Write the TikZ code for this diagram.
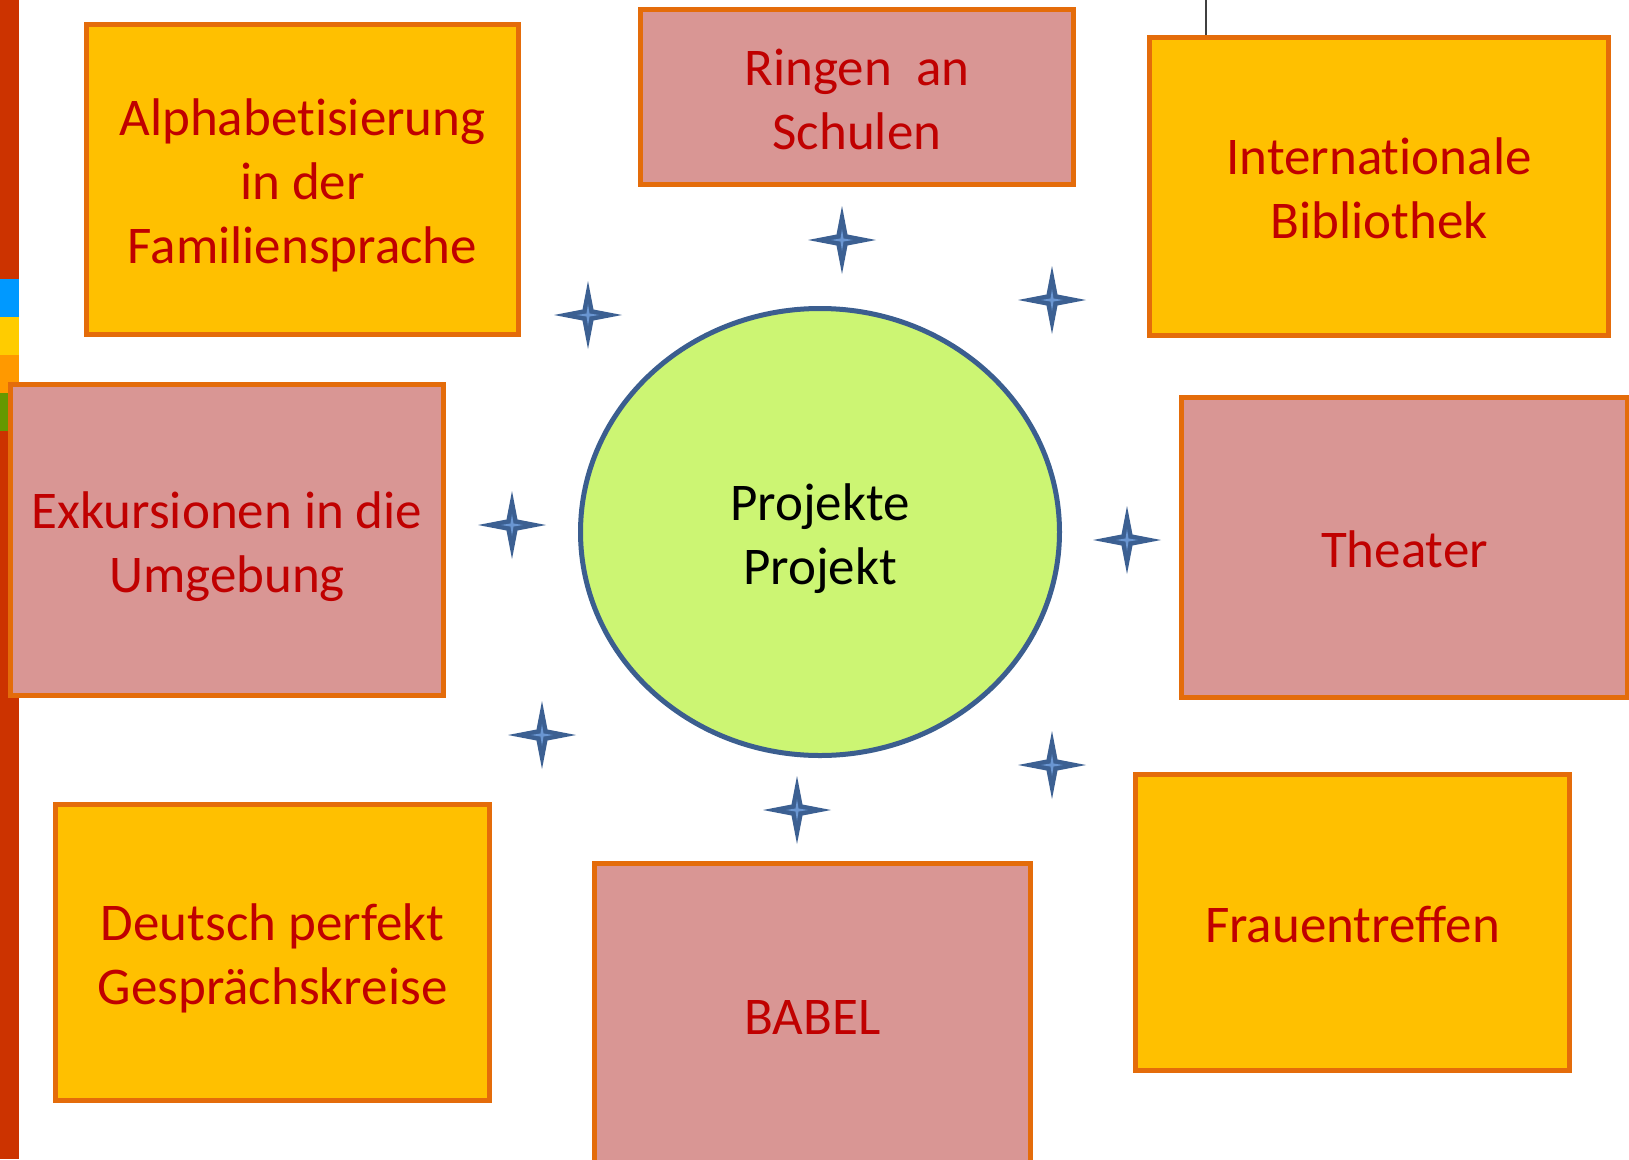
\documentclass[tikz,border=0pt]{standalone}
\usepackage{fontspec}
\setmainfont{Carlito}[Ligatures={NoCommon}]
\usetikzlibrary{shapes.geometric}
\definecolor{boxyellow}{HTML}{FFC000}
\definecolor{boxpink}{HTML}{D99694}
\definecolor{boxline}{HTML}{E46C0A}
\definecolor{txtred}{HTML}{C00000}
\definecolor{ellfill}{HTML}{CCF573}
\definecolor{elldraw}{HTML}{3B5E8F}
\definecolor{starblue}{HTML}{3C6092}
\definecolor{starlight}{HTML}{6A96D2}
\definecolor{barred}{HTML}{CC3300}
\definecolor{barblue}{HTML}{0099FF}
\definecolor{baryellow}{HTML}{FFCC00}
\definecolor{barorange}{HTML}{FF9900}
\definecolor{bargreen}{HTML}{669900}
\newcommand{\boxlines}[1]{\raisebox{-7.5pt}[\height][\depth]{\begin{tabular}{@{}c@{}}#1\end{tabular}}}
\tikzset{
  projbox/.style={draw=boxline, line width=5pt, text=txtred,
    font=\fontsize{53}{64}\selectfont, inner sep=0pt},
  yellowbox/.style={projbox, fill=boxyellow},
  pinkbox/.style={projbox, fill=boxpink},
  sparkle/.pic={
    \fill[starblue] (0,-34) -- (5.5,-5.5) -- (34,0) -- (5.5,5.5) -- (0,34)
      -- (-5.5,5.5) -- (-34,0) -- (-5.5,-5.5) -- cycle;
    \fill[starlight] (0,-11) -- (1.5,-1.5) -- (11,0) -- (1.5,1.5) -- (0,11)
      -- (-1.5,1.5) -- (-11,0) -- (-1.5,-1.5) -- cycle;
  }
}
\begin{document}
\begin{tikzpicture}[x=1pt,y=-1pt]
\useasboundingbox (0,0) rectangle (1629,1159);
\fill[white] (0,0) rectangle (1629,1159);
\begin{scope}
\clip (0,0) rectangle (1629,1159);
% left colour bar
\fill[barred] (0,0) rectangle (19,279);
\fill[barblue] (0,279) rectangle (19,317);
\fill[baryellow] (0,317) rectangle (19,355);
\fill[barorange] (0,355) rectangle (19,393);
\fill[bargreen] (0,393) rectangle (19,431);
\fill[barred] (0,431) rectangle (19,1159);

% boxes
\node[yellowbox, minimum width=432pt, minimum height=310pt] (alpha) at (302.5,179.5)
  {\boxlines{Alphabetisierung\\in der\\Familiensprache}};
\node[pinkbox, minimum width=433pt, minimum height=175pt] (ringen) at (857,97)
  {\boxlines{Ringen\ \ an\\Schulen}};
\node[yellowbox, minimum width=459pt, minimum height=298pt] (intl) at (1379,186.5)
  {\boxlines{Internationale\\Bibliothek}};
\node[pinkbox, minimum width=433pt, minimum height=311pt] (exk) at (227,540)
  {\boxlines{Exkursionen in die\\Umgebung}};
\node[pinkbox, minimum width=446pt, minimum height=300pt] (theater) at (1404.5,547.5)
  {\boxlines{Theater}};
\node[yellowbox, minimum width=434pt, minimum height=296pt] (deutsch) at (272.5,952.5)
  {\boxlines{Deutsch perfekt\\Gesprächskreise}};
\node[pinkbox, minimum width=436pt, minimum height=302pt] (babel) at (812.5,1014.5)
  {\boxlines{BABEL}};
\node[yellowbox, minimum width=434pt, minimum height=296pt] (frauen) at (1352.5,922.5)
  {\boxlines{Frauentreffen}};

% centre ellipse
\node[ellipse, draw=elldraw, line width=5pt, fill=ellfill, minimum width=479pt,
  minimum height=447pt, inner sep=0pt, text=black,
  font=\fontsize{53}{64}\selectfont] (centre) at (820,532) {\boxlines{Projekte\\Projekt}};

% line at top right
\coordinate (linetop) at (1206,0);
\draw[black!75, line width=1.5pt] (linetop) -- (linetop |- intl.north);

% sparkles
\pic at (842,240) {sparkle};
\pic at (588,315) {sparkle};
\pic at (1052,300) {sparkle};
\pic at (512,525) {sparkle};
\pic at (1127,540) {sparkle};
\pic at (542,735) {sparkle};
\pic at (797,810) {sparkle};
\pic at (1052,765) {sparkle};
\end{scope}
\end{tikzpicture}
\end{document}
